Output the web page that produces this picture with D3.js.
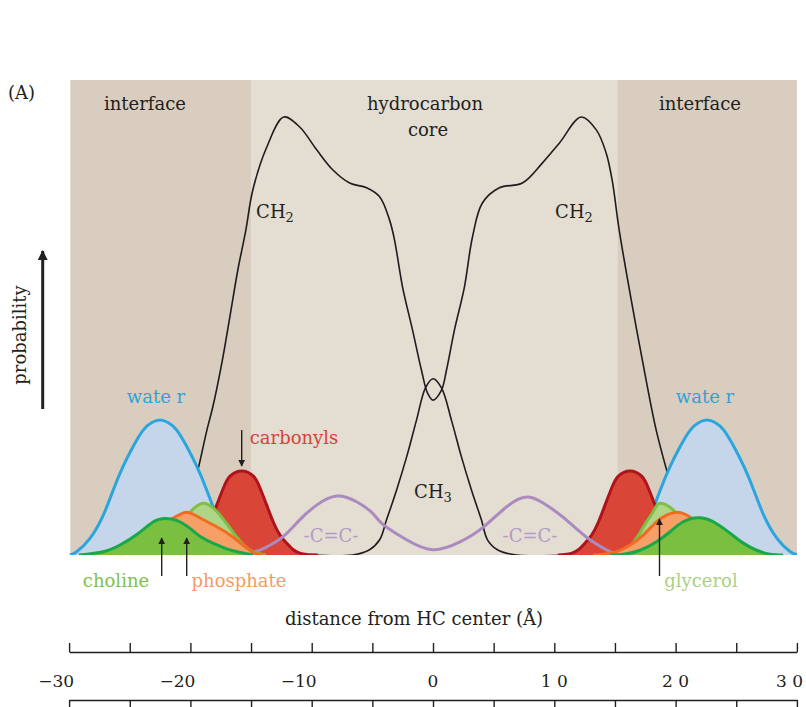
<!DOCTYPE html>
<html>
<head>
<meta charset="utf-8">
<script src="https://cdn.jsdelivr.net/npm/d3@7"></script>
<style>
  body { margin: 0; background: #fff; }
  text { font-family: "DejaVu Serif", "Liberation Serif", serif; }
</style>
</head>
<body>
<svg id="chart" width="806" height="707"></svg>
<script>
// ---- data: distance from the hydrocarbon centre (Å) vs. relative probability ----
const zoneNames  = ["interface", "hydrocarbon core", "interface"];
const zoneStarts = [-29.9, -15.0, 15.2];
const zoneEnds   = [-15.0, 15.2, 30.0];

const ch2Profile = [[-24.16,0],[-22.51,0.2],[-21.52,1.5],[-20.7,5.3],[-20.04,11.6],[-19.38,17.9],[-18.64,26.3],
  [-18.15,31.2],[-17.41,40.4],[-16.75,50.1],[-16.09,60.0],[-15.43,68.4],[-14.86,76.8],[-13.70,85.9],[-12.30,92.2],
  [-10.99,90.1],[-9.59,85.3],[-8.27,81.1],[-6.87,78.3],[-5.47,77.3],[-4.40,75.4],[-3.58,70.5],[-3.17,66.3],
  [-2.51,56.4],[-1.69,47.4],[-0.95,38.9],[-0.45,34.1],[0,32.6],[0.70,34.7],[1.11,38.9],[1.77,47.4],[2.59,56.4],
  [3.25,66.9],[4.07,74.1],[5.47,77.3],[7.37,78.3],[9.01,82.5],[10.41,86.7],[12.22,92.2],[13.46,89.5],[14.28,84.6],
  [14.77,78.9],[15.35,68.4],[16.42,52.6],[17.57,36.8],[18.40,26.3],[19.30,17.5],[19.96,11.6],[20.70,5.3],
  [21.52,1.5],[22.51,0.2],[24.16,0]];
const ch3Profile = [[-10,0],[-6.63,0],[-5.23,1.1],[-4.40,3.2],[-3.83,7.4],[-3.00,13.7],[-2.18,20.6],[-1.36,28.4],
  [-0.62,35.2],[0,37.1],[0.70,35.2],[1.52,28.4],[2.35,20.6],[3.17,13.7],[3.99,7.4],[4.49,3.2],[5.31,1.1],[6.87,0],[11,0]];
const doubleBond = [[-17,0],[-14.86,0.6],[-13.70,1.7],[-12.39,3.8],[-10.99,7.4],[-9.59,10.5],[-7.94,12.4],[-6.30,11.2],
  [-4.98,8.8],[-4.15,6.5],[-2.18,3.2],[0,1.1],[2.18,2.7],[4.07,5.7],[6.05,10.1],[7.86,12.2],[9.59,10.1],[10.99,7.4],
  [12.63,3.8],[14.28,1.1],[15.1,0.4],[17,0]];

const waterL = [[-29.93,0],[-29.38,0.7],[-28.28,3.5],[-27.18,8.4],[-26.36,13.7],[-25.54,18.7],[-24.71,22.9],
  [-23.89,26.3],[-23.17,27.9],[-22.51,28.4],[-21.85,27.9],[-21.13,26.3],[-20.31,22.9],[-19.48,18.7],[-18.66,13.7],
  [-17.84,8.4],[-16.74,3.5],[-15.64,0.7],[-15.09,0]];
const waterR = [[15.17,0],[15.72,0.7],[16.82,3.5],[17.92,8.4],[18.74,13.7],[19.56,18.7],[20.39,22.9],[21.21,26.3],
  [21.93,27.9],[22.59,28.4],[23.25,27.9],[23.97,26.3],[24.79,22.9],[25.62,18.7],[26.44,13.7],[27.26,8.4],
  [28.36,3.5],[29.46,0.7],[30.0,0.1]];
const carbonylL = [[-21.13,0.1],[-20.55,0.4],[-20.03,1.1],[-19.48,2.5],[-18.93,4.2],[-18.38,6.9],[-17.83,10.5],
  [-17.28,14.1],[-16.73,16.6],[-15.77,17.7],[-14.81,16.6],[-14.26,14.1],[-13.71,10.5],[-13.16,6.9],[-12.61,4.2],
  [-12.06,2.5],[-11.51,1.1],[-10.99,0.4],[-10.41,0.1],[-9.5,0]];
const carbonylR = [[10.3,0],[10.88,0.1],[11.46,0.4],[11.98,1.1],[12.53,2.5],[13.08,4.2],[13.63,6.9],[14.18,10.5],
  [14.73,14.1],[15.28,16.6],[16.24,17.7],[17.20,16.6],[17.75,14.1],[18.30,10.5],[18.85,6.9],[19.40,4.2],[19.95,2.5],
  [20.50,1.1],[21.02,0.4],[21.60,0.1]];
const glycerolL = [[-24.0,0],[-23.02,0.6],[-22.2,2.1],[-21.37,4.6],[-20.55,7.4],[-19.72,9.8],[-18.9,10.9],
  [-18.08,9.8],[-17.25,7.4],[-16.43,4.6],[-15.6,2.1],[-14.78,0.6],[-13.8,0]];
const glycerolR = [[14.6,0],[15.3,0.4],[16.0,1.2],[16.5,2.6],[17.0,4.4],[17.6,7.0],[18.2,9.3],[18.71,10.9],
  [19.8,9.5],[20.6,7.0],[21.4,4.6],[22.2,2.1],[23.0,0.6],[23.8,0]];
const phosphateL = [[-26.7,0],[-25.75,0.6],[-24.1,3.8],[-22.8,5.9],[-21.4,7.8],[-20.3,9.0],[-19.2,7.8],[-17.8,5.9],
  [-16.5,3.8],[-14.85,0.6],[-13.9,0]];
const phosphateR = [[13.2,0],[14.04,0.15],[15.13,0.7],[16.24,2.1],[17.33,4.2],[18.43,7.0],[19.26,8.4],[20.22,9.0],
  [21.18,8.0],[22.3,6.0],[23.6,3.8],[25.0,1.6],[26.5,0.3],[27.5,0]];
const cholineL = [[-29.2,0],[-27.18,0.7],[-25.80,2.1],[-24.42,4.3],[-23.05,7.0],[-22.09,7.7],[-21.13,7.3],
  [-20.03,5.6],[-18.93,3.5],[-17.6,1.9],[-16.5,0.9],[-14.8,0]];
const cholineR = [[14.6,0],[15.69,0.15],[17.06,1.0],[18.43,2.8],[19.54,4.9],[20.63,7.0],[21.87,7.85],[23.11,7.0],
  [24.48,4.6],[25.58,2.5],[26.68,1.0],[27.78,0.15],[28.85,0]];

const tickValues = [-30, -20, -10, 0, 10, 20, 30];
const tickLabels = ["\u221230", "\u221220", "\u221210", "0", "1 0", "2 0", "3 0"];

// ---- layout ----
const svg = d3.select("#chart");
const x = d3.scaleLinear().domain([-30, 30]).range([69.1, 796.9]);
const y = d3.scaleLinear().domain([0, 100]).range([555, 80]);

const zoneFill = ["#d8cdbf", "#e3ddd2", "#d8cdbf"];
svg.append("g").selectAll("rect").data(zoneNames).join("rect")
  .attr("x", (d, i) => x(zoneStarts[i]))
  .attr("width", (d, i) => x(zoneEnds[i]) - x(zoneStarts[i]))
  .attr("y", y(100)).attr("height", y(0) - y(100))
  .attr("fill", (d, i) => zoneFill[i]);

svg.append("defs").append("clipPath").attr("id", "plotclip")
  .append("rect").attr("x", x(-30)).attr("y", y(100) - 5)
  .attr("width", x(30) - x(-30) + 2).attr("height", y(0) - y(100) + 5);

// chain profiles pass through their points; the bell-shaped peaks use a C2 spline
const chainLine = d3.line().x(d => x(d[0])).y(d => y(d[1])).curve(d3.curveCatmullRom.alpha(0.5));
const line = d3.line().x(d => x(d[0])).y(d => y(d[1])).curve(d3.curveNatural);
const area = d3.area().x(d => x(d[0])).y0(y(0)).y1(d => y(d[1])).curve(d3.curveNatural);

const plot = svg.append("g").attr("clip-path", "url(#plotclip)");

plot.append("path").attr("d", chainLine(ch2Profile)).attr("fill", "none").attr("stroke", "#1e1c1c").attr("stroke-width", 1.6);
plot.append("path").attr("d", chainLine(ch3Profile)).attr("fill", "none").attr("stroke", "#1e1c1c").attr("stroke-width", 1.6);

function peak(data, fill, stroke, w) {
  plot.append("path").attr("d", area(data)).attr("fill", fill);
  plot.append("path").attr("d", line(data)).attr("fill", "none").attr("stroke", stroke)
    .attr("stroke-width", w).attr("stroke-linejoin", "round");
}
peak(waterL, "#c6d6ea", "#2aa5de", 3);
peak(waterR, "#c6d6ea", "#2aa5de", 3);
peak(carbonylL, "#d94638", "#b0131b", 3);
peak(carbonylR, "#d94638", "#b0131b", 3);
plot.append("path").attr("d", line(doubleBond)).attr("fill", "none").attr("stroke", "#ab8bbf").attr("stroke-width", 3);
peak(glycerolL, "#b0d589", "#7cc143", 3);
peak(glycerolR, "#b0d589", "#7cc143", 3);
peak(phosphateL, "#f6a067", "#f26b21", 3);
peak(phosphateR, "#f6a067", "#f26b21", 3);
peak(cholineL, "#7bbf41", "#18a84a", 3);
peak(cholineR, "#7bbf41", "#18a84a", 3);

// ---- text ----
const T = svg.append("g");
function label(txt, px, py, color, size, anchor) {
  return T.append("text").attr("x", px).attr("y", py).attr("fill", color)
    .attr("font-size", size).attr("text-anchor", anchor || "middle").text(txt);
}
label("(A)", 8, 99, "#231f20", 18, "start");
label("interface", 145, 110, "#231f20", 18);
label("hydrocarbon", 425, 110, "#231f20", 18);
label("core", 428, 136, "#231f20", 18);
label("interface", 700, 110, "#231f20", 18);

function chem(n, px, py) {
  const t = T.append("text").attr("x", px).attr("y", py).attr("fill", "#231f20").attr("font-size", 18)
    .attr("text-anchor", "middle").text("CH");
  t.append("tspan").attr("font-size", 13).attr("dy", 4).text(n);
}
chem("2", 275, 218);
chem("2", 574, 218);
chem("3", 433, 498);

label("wate r", 156, 403, "#2ea3da", 18);
label("wate r", 705, 403, "#2ea3da", 18);
label("carbonyls", 294, 444, "#d7433a", 18);
label("-C=C-", 331, 542, "#b39bc7", 18);
label("-C=C-", 530, 542, "#b39bc7", 18);
label("choline", 116, 587, "#80c24a", 18);
label("phosphate", 239, 587, "#f79a61", 18);
label("glycerol", 701, 587, "#a9d183", 18);

// annotation arrows
const defs = svg.append("defs");
defs.append("marker").attr("id", "head").attr("viewBox", "0 0 10 10").attr("refX", 9).attr("refY", 5)
  .attr("markerWidth", 7).attr("markerHeight", 9).attr("markerUnits", "userSpaceOnUse").attr("orient", "auto")
  .append("path").attr("d", "M0,0 L10,5 L0,10 Z").attr("fill", "#231f20");
defs.append("marker").attr("id", "bighead").attr("viewBox", "0 0 10 10").attr("refX", 9).attr("refY", 5)
  .attr("markerWidth", 12).attr("markerHeight", 10).attr("markerUnits", "userSpaceOnUse").attr("orient", "auto")
  .append("path").attr("d", "M0,0 L10,5 L0,10 Z").attr("fill", "#231f20");

function arrow(x1, y1, x2, y2, w, m) {
  T.append("line").attr("x1", x1).attr("y1", y1).attr("x2", x2).attr("y2", y2)
    .attr("stroke", "#231f20").attr("stroke-width", w).attr("marker-end", `url(#${m})`);
}
arrow(241.7, 430, 241.7, 466, 1.4, "head");
arrow(161.7, 576, 161.7, 538, 1.4, "head");
arrow(186.7, 576, 186.7, 538, 1.4, "head");
arrow(659.5, 576, 659.5, 519, 1.4, "head");
arrow(42.7, 409, 42.7, 251, 3, "bighead");

T.append("text").attr("transform", "translate(26,335) rotate(-90)").attr("text-anchor", "middle")
  .attr("font-size", 18).attr("fill", "#231f20").text("probability");

label("distance from HC center (\u00c5)", 414, 625, "#231f20", 18);

// ---- axes ----
const ticks5 = d3.range(-30, 31, 5);
const axTop = svg.append("g").attr("transform", "translate(0,652)")
  .call(d3.axisTop(x).tickValues(ticks5).tickSize(9).tickSizeOuter(0).tickFormat(""));
const axBot = svg.append("g").attr("transform", "translate(0,700)")
  .call(d3.axisBottom(x).tickValues(ticks5).tickSize(9).tickSizeOuter(0).tickFormat(""));
[axTop, axBot].forEach(g => {
  g.select(".domain").attr("stroke", "#231f20").attr("stroke-width", 1.4);
  g.selectAll(".tick line").attr("stroke", "#231f20").attr("stroke-width", 1.4);
});

svg.append("g").selectAll("text").data(tickValues).join("text")
  .attr("x", d => d < 0 ? x(d) + 5 : x(d))
  .attr("y", 687)
  .attr("text-anchor", d => d < 0 ? "end" : "middle")
  .attr("font-size", 17).attr("fill", "#231f20")
  .text((d, i) => tickLabels[i])
  .each(function () {
    const w = this.getComputedTextLength();
    const cx = +this.getAttribute("x");
    if (this.getAttribute("text-anchor") === "middle" && cx + w / 2 > 803) this.setAttribute("x", 803 - w / 2);
  });
</script>
</body>
</html>
